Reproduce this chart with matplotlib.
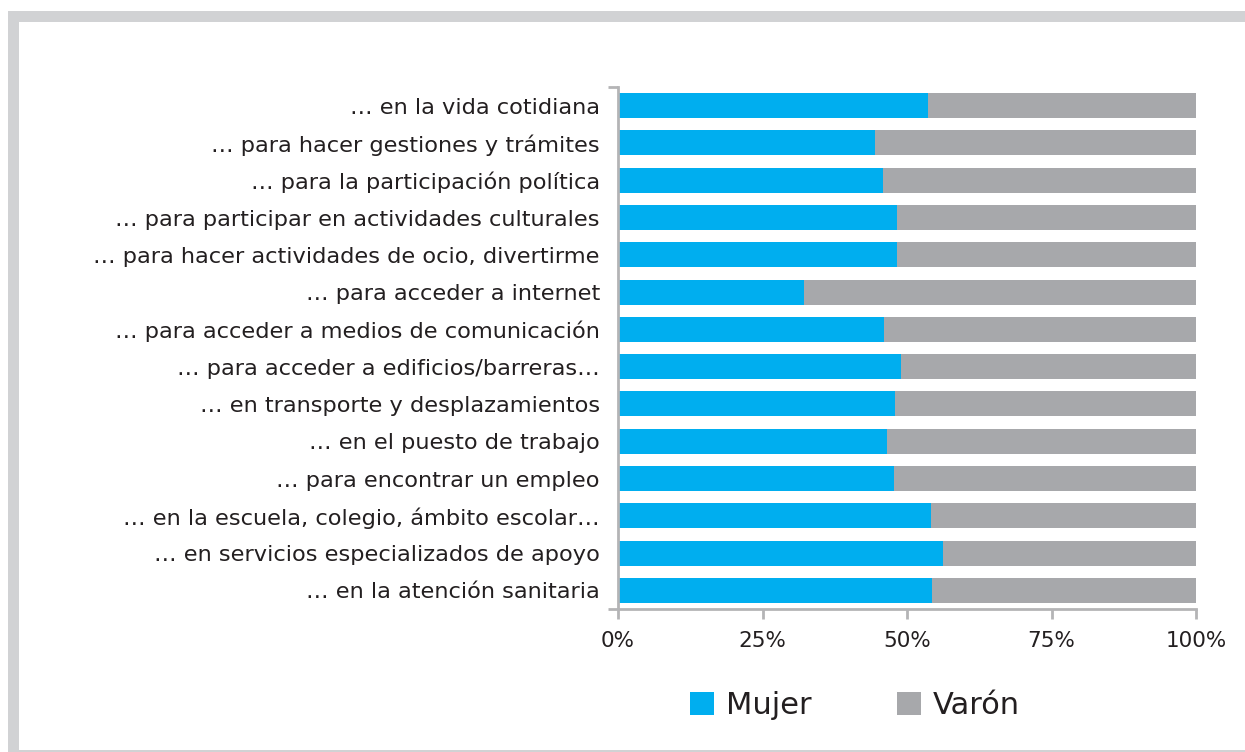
import matplotlib.pyplot as plt
from matplotlib.patches import Rectangle, Patch

# categorias (de arriba a abajo)
categorias = [
    "… en la vida cotidiana",
    "… para hacer gestiones y trámites",
    "… para la participación política",
    "… para participar en actividades culturales",
    "… para hacer actividades de ocio, divertirme",
    "… para acceder a internet",
    "… para acceder a medios de comunicación",
    "… para acceder a edificios/barreras…",
    "… en transporte y desplazamientos",
    "… en el puesto de trabajo",
    "… para encontrar un empleo",
    "… en la escuela, colegio, ámbito escolar…",
    "… en servicios especializados de apoyo",
    "… en la atención sanitaria",
]
mujer = [53.7, 44.4, 45.8, 48.2, 48.2, 32.2, 46.1, 49.0, 48.0, 46.6, 47.8, 54.1, 56.2, 54.4]
varon = [100 - m for m in mujer]
ticks_x = [0, 25, 50, 75, 100]
ticks_lbl = ["0%", "25%", "50%", "75%", "100%"]

azul = "#00AEEF"
gris = "#A7A8AB"
eje = "#B4B4B6"

plt.rcParams['font.family'] = ['DejaVu Sans']
fig = plt.figure(figsize=(12.45, 7.52), dpi=100)
W, H = 1245, 752

# marco gris
fig.patches.append(Rectangle((8 / W, 0), 1 - 8 / W, 1 - 11 / H, transform=fig.transFigure,
                             facecolor="#D1D2D4", edgecolor="none", zorder=-10))
fig.patches.append(Rectangle((19 / W, 2 / H), 1 - 19 / W, 1 - 24 / H, transform=fig.transFigure,
                             facecolor="white", edgecolor="none", zorder=-9))

ax = fig.add_axes([618 / W, 1 - 609 / H, (1196 - 618) / W, (609 - 87) / H])
ax.set_facecolor("none")

y = list(range(len(categorias)))
ax.barh(y, mujer, height=0.67, color=azul, label="Mujer")
ax.barh(y, varon, left=mujer, height=0.67, color=gris, label="Varón")

ax.set_xlim(0, 100)
ax.set_ylim(len(categorias) - 0.5, -0.5)
ax.set_yticks(y)
ax.set_yticklabels(categorias, fontsize=16.2, color="#231F20")
ax.set_yticks([-0.5, len(categorias) - 0.5], minor=True)
ax.tick_params(axis="y", which="major", length=0, pad=13)
ax.tick_params(axis="y", which="minor", length=7, width=2, color=eje, direction="out")
ax.set_xticks(ticks_x)
ax.set_xticklabels(ticks_lbl, fontsize=15.5, color="#231F20")
ax.tick_params(axis="x", length=7, width=2, color=eje, direction="out", pad=9)

for s in ["top", "right"]:
    ax.spines[s].set_visible(False)
for s in ["left", "bottom"]:
    ax.spines[s].set_color(eje)
    ax.spines[s].set_linewidth(2)

handles = [Patch(facecolor=azul, label="Mujer"), Patch(facecolor=gris, label="Varón")]
fig.legend(handles=handles, loc="center", bbox_to_anchor=(855 / W, 1 - 706 / H), ncol=2,
           frameon=False, fontsize=22, handlelength=0.78, handleheight=0.78,
           handletextpad=0.4, columnspacing=2.8, labelcolor="#231F20")

fig.savefig("out.png", dpi=100)
